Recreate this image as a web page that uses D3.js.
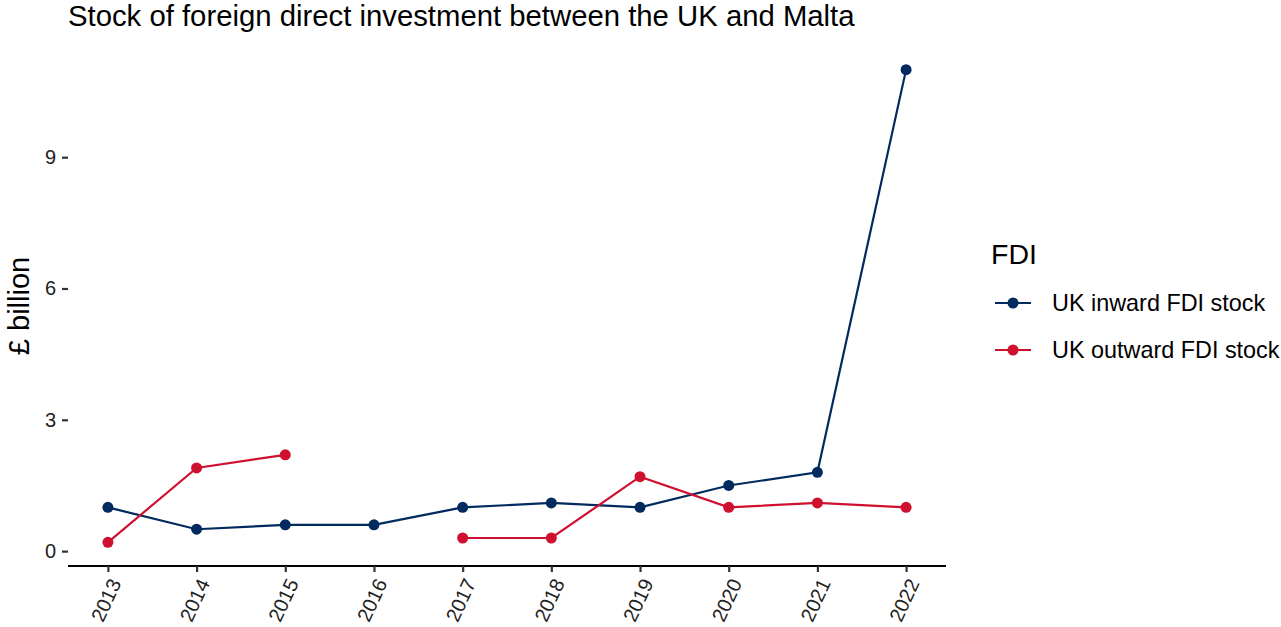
<!DOCTYPE html>
<html><head><meta charset="utf-8">
<script src="https://cdn.jsdelivr.net/npm/d3@7"></script>
<style>body{margin:0;background:#fff}svg{display:block;font-family:"Liberation Sans",Arial,sans-serif}</style>
</head><body><svg id="c" width="1281" height="627"></svg>
<script>
const years = [2013,2014,2015,2016,2017,2018,2019,2020,2021,2022];
const inward = [1.0,0.5,0.6,0.6,1.0,1.1,1.0,1.5,1.8,11.0];
const outward = [0.2,1.9,2.2,null,0.3,0.3,1.7,1.0,1.1,1.0];
const seriesNames = ["UK inward FDI stock","UK outward FDI stock"];
const seriesColors = ["#012a5e","#d0102f"];
const yTicks = [0,3,6,9];

const svg = d3.select("#c");
const L = 68, R = 946, T = 46, B = 566;
const x = d3.scaleLinear().domain([2013-0.45,2022+0.45]).range([L,R]);
const yMin = 0.2, yMax = 11.0, pad = (yMax-yMin)*0.05;
const y = d3.scaleLinear().domain([yMin-pad,yMax+pad]).range([B,T]);

svg.append("text").attr("x",68).attr("y",26).attr("font-size",29.3).attr("fill","#000")
  .text("Stock of foreign direct investment between the UK and Malta");

// y axis (ticks + labels, no line)
const ya = svg.append("g").attr("transform",`translate(${L},0)`)
  .call(d3.axisLeft(y).tickValues(yTicks).tickSize(6).tickPadding(6).tickFormat(d3.format("d")));
ya.select(".domain").remove();
ya.selectAll("line").attr("stroke","#333").attr("stroke-width",2.2);
ya.selectAll("text").attr("font-size",20).attr("fill","#222").attr("font-family","Liberation Sans, Arial, sans-serif");

// x axis
const xa = svg.append("g").attr("transform",`translate(0,${B})`)
  .call(d3.axisBottom(x).tickValues(years).tickSize(6).tickFormat(d3.format("d")));
xa.select(".domain").attr("stroke","#000").attr("stroke-width",2.2).attr("d",`M${L},0H${R}`);
xa.selectAll("line").attr("stroke","#333").attr("stroke-width",2.2);
xa.selectAll("text").attr("font-size",20).attr("fill","#222").attr("font-family","Liberation Sans, Arial, sans-serif")
  .attr("text-anchor","end").attr("dy",null).attr("y",0)
  .attr("transform","translate(7,14) rotate(-65)").attr("dominant-baseline","central");

svg.append("text").attr("transform","translate(29,306) rotate(-90)").attr("text-anchor","middle")
  .attr("font-size",29).attr("fill","#000").text("£ billion");

const data = [inward,outward];
data.forEach((vals,i)=>{
  const pts = years.map((yr,j)=>({yr,v:vals[j]}));
  const line = d3.line().defined(d=>d.v!=null).x(d=>x(d.yr)).y(d=>y(d.v));
  svg.append("path").datum(pts).attr("d",line).attr("fill","none")
    .attr("stroke",seriesColors[i]).attr("stroke-width",2.2);
  svg.append("g").selectAll("circle").data(pts.filter(d=>d.v!=null)).join("circle")
    .attr("cx",d=>x(d.yr)).attr("cy",d=>y(d.v)).attr("r",5.5).attr("fill",seriesColors[i]);
});

// legend
const lg = svg.append("g");
lg.append("text").attr("x",991).attr("y",264).attr("font-size",28.5).attr("fill","#000").text("FDI");
seriesNames.forEach((n,i)=>{
  const cy = 303 + i*47;
  lg.append("line").attr("x1",995).attr("x2",1031).attr("y1",cy).attr("y2",cy)
    .attr("stroke",seriesColors[i]).attr("stroke-width",2.2);
  lg.append("circle").attr("cx",1013).attr("cy",cy).attr("r",5.5).attr("fill",seriesColors[i]);
  lg.append("text").attr("x",1052).attr("y",cy).attr("dy","0.35em").attr("font-size",23.4).attr("fill","#000").text(n);
});
</script></body></html>
